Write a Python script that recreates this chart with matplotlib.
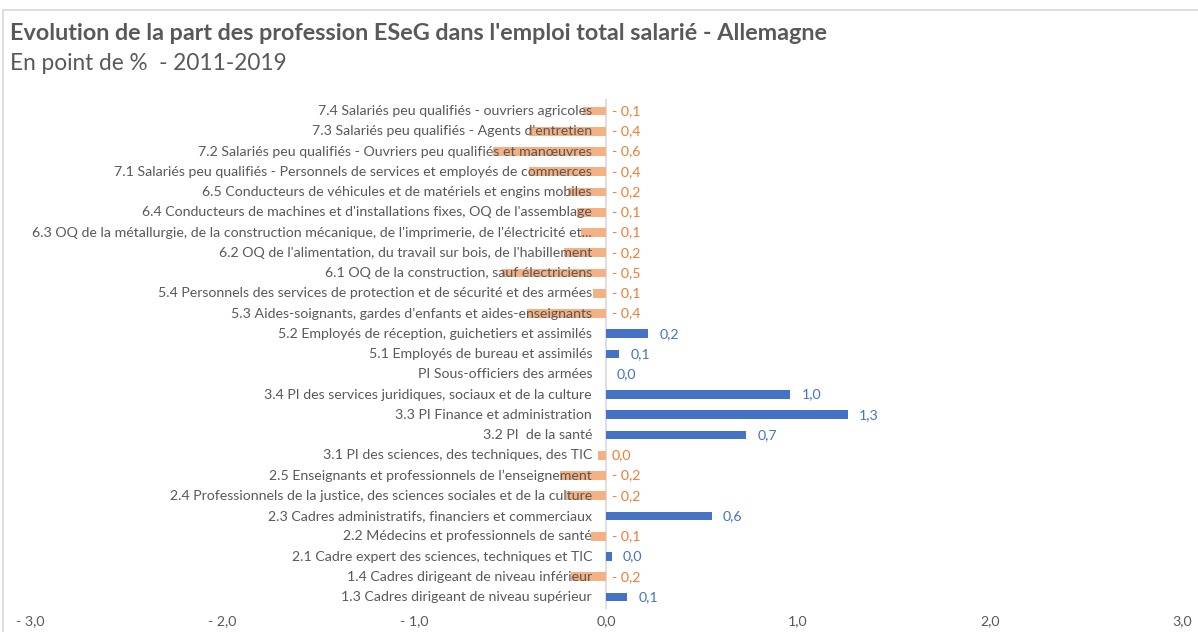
import matplotlib.pyplot as plt
from matplotlib.patches import Rectangle

# Categories, bottom to top
categories = [
    "1.3 Cadres dirigeant de niveau supérieur",
    "1.4 Cadres dirigeant de niveau inférieur",
    "2.1 Cadre expert des sciences, techniques et TIC",
    "2.2 Médecins et professionnels de santé",
    "2.3 Cadres administratifs, financiers et commerciaux",
    "2.4 Professionnels de la justice, des sciences sociales et de la culture",
    "2.5 Enseignants et professionnels de l\u2019enseignement",
    "3.1 PI des sciences, des techniques, des TIC",
    "3.2 PI  de la santé",
    "3.3 PI Finance et administration",
    "3.4 PI des services juridiques, sociaux et de la culture",
    "PI Sous-officiers des armées",
    "5.1 Employés de bureau et assimilés",
    "5.2 Employés de réception, guichetiers et assimilés",
    "5.3 Aides-soignants, gardes d\u2019enfants et aides-enseignants",
    "5.4 Personnels des services de protection et de sécurité et des armées",
    "6.1 OQ de la construction, sauf électriciens",
    "6.2 OQ de l'alimentation, du travail sur bois, de l'habillement",
    "6.3 OQ de la métallurgie, de la construction mécanique, de l'imprimerie, de l'électricité et...",
    "6.4 Conducteurs de machines et d'installations fixes, OQ de l'assemblage",
    "6.5 Conducteurs de véhicules et de matériels et engins mobiles",
    "7.1 Salariés peu qualifiés - Personnels de services et employés de commerces",
    "7.2 Salariés peu qualifiés - Ouvriers peu qualifiés et manœuvres",
    "7.3 Salariés peu qualifiés - Agents d'entretien",
    "7.4 Salariés peu qualifiés - ouvriers agricoles",
]
values = [
    0.11, -0.18, 0.03, -0.08, 0.55, -0.21, -0.24, -0.04, 0.73, 1.26,
    0.96, 0.0, 0.07, 0.22, -0.41, -0.07, -0.54, -0.22, -0.13, -0.15,
    -0.20, -0.40, -0.59, -0.40, -0.12,
]
x_ticks = [-3, -2, -1, 0, 1, 2, 3]

blue = "#4472C4"
orange_bar = "#F4B183"
orange_txt = "#ED7D31"
grey = "#595959"
font = ["Lato", "DejaVu Sans"]
fs = 10.2

fig = plt.figure(figsize=(11.98, 6.32), dpi=100)
fig.patches.append(Rectangle((3 / 1198, -0.1), 1.2, 1 - 10 / 632 + 0.1,
                             transform=fig.transFigure, fill=False,
                             edgecolor="#D9D9D9", linewidth=1.2))
ax = fig.add_axes([30 / 1198, 0.0361, 1152 / 1198, 0.8074])

ypos = list(range(len(categories)))
colors = [blue if v > 0 else orange_bar for v in values]
ax.barh(ypos, values, height=0.43, color=colors, zorder=1)
ax.axvline(0, color="#D9D9D9", linewidth=1.2, zorder=0)

for y, cat, v in zip(ypos, categories, values):
    ax.annotate(cat, (0, y), xytext=(-10, 0), textcoords="offset points",
                ha="right", va="center", fontsize=fs, color=grey,
                family=font, zorder=3)
    txt = f"{abs(v):.1f}".replace(".", ",")
    if round(v, 1) < 0:
        txt = "- " + txt
    if v >= 0:
        ax.annotate(txt, (v, y), xytext=(8, 0), textcoords="offset points",
                    ha="left", va="center", fontsize=fs, color=blue,
                    family=font)
    else:
        ax.annotate(txt, (0, y), xytext=(4, 0), textcoords="offset points",
                    ha="left", va="center", fontsize=fs, color=orange_txt,
                    family=font)

ax.set_xlim(-3, 3)
ax.set_ylim(-0.6, len(categories) - 0.4)
ax.set_xticks(x_ticks)
ax.set_xticklabels([("- " if t < 0 else "") + f"{abs(t):.1f}".replace(".", ",")
                    for t in x_ticks], color=grey, fontsize=fs, family=font)
ax.tick_params(axis="x", length=0, pad=4)
ax.set_yticks([])
for s in ax.spines.values():
    s.set_visible(False)

fig.text(10 / 1198, 1 - 33 / 632, "Evolution de la part des profession ESeG dans l'emploi total salarié - Allemagne",
         fontsize=16.8, fontweight="bold", color=grey, family=font, va="center")
fig.text(10 / 1198, 1 - 63 / 632, "En point de %  - 2011-2019",
         fontsize=16.3, color=grey, family=font, va="center")

fig.savefig("out.png", dpi=100)
